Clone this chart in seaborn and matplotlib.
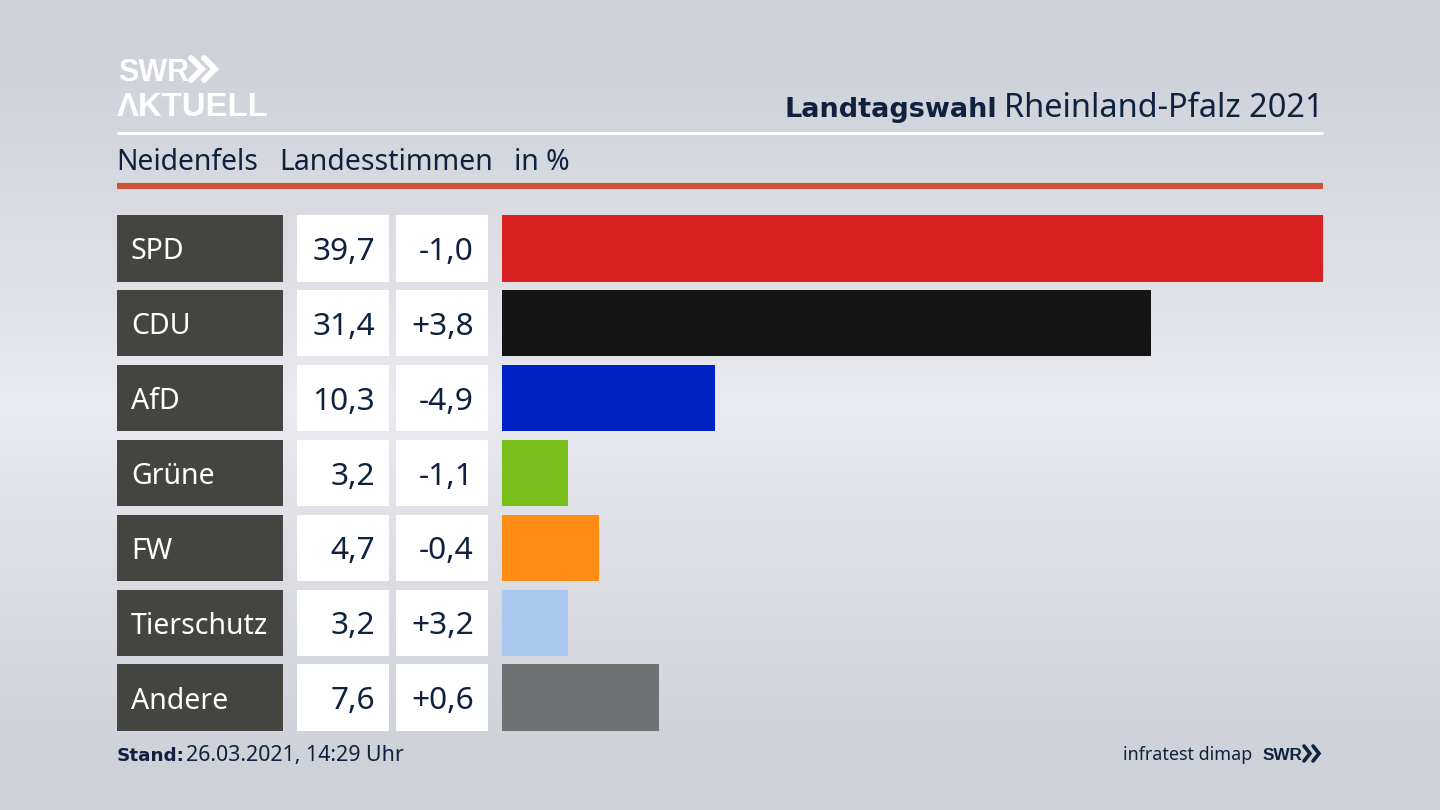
"""SWR election graphic: Landesstimmen Neidenfels, Rheinland-Pfalz 2021."""

import matplotlib
matplotlib.use("Agg")
import matplotlib.pyplot as plt
import numpy as np
import pandas as pd
import seaborn as sns

parties = ["SPD", "CDU", "AfD", "Grüne", "FW", "Tierschutz", "Andere"]
shares = [39.7, 31.4, 10.3, 3.2, 4.7, 3.2, 7.6]
changes = ["-1,0", "+3,8", "-4,9", "-1,1", "-0,4", "+3,2", "+0,6"]
bar_colors = ["#d7201f", "#141414", "#0021c4", "#79bd1a", "#ff8c14", "#abc8f0", "#707173"]

NAVY = "#0e2240"
BOLD_FONT = "DejaVu Sans"
LOGO_FONT = "Liberation Sans"
W, H = 1440, 810
BAR_H = 0.888

sns.set_theme(style="white")
plt.rcParams["font.family"] = ["Noto Sans", "DejaVu Sans"]


def px_axes(fig, left, top, right, bottom):
    """Axes placed by pixel edges, measured from the top left."""
    return fig.add_axes([left / W, 1 - bottom / H, (right - left) / W, (bottom - top) / H])


fig = plt.figure(figsize=(14.4, 8.1), dpi=100)

# Background gradient, light band through the middle
bg = px_axes(fig, 0, 0, W, H)
rows = np.linspace(0, 1, 256)
shade = 1 - np.abs(rows - 0.5) * 2
shade = shade ** 1.3
top_c = np.array([205, 208, 215]) / 255
mid_c = np.array([234, 235, 240]) / 255
grad = top_c + (mid_c - top_c) * shade[:, None]
bg.imshow(grad[:, None, :], aspect="auto", extent=[0, W, H, 0])
bg.set_xlim(0, W)
bg.set_ylim(H, 0)
bg.axis("off")

# Header
bg.plot([117, 1323], [133, 133], color="white", lw=2.2, solid_capstyle="butt")
bg.plot([117, 1323], [185.5, 185.5], color="#cc5238", lw=4.4, solid_capstyle="butt")
bg.text(118, 81, "SWR", color="white", fontsize=22, fontweight="bold", va="baseline", family=LOGO_FONT)
bg.text(117, 115.5, "ΛKTUELL", color="white", fontsize=23.7, fontweight="bold", va="baseline", family=LOGO_FONT)
for x0 in (191, 204):
    bg.plot([x0, x0 + 11, x0], [58, 69, 80], color="white", lw=4.2, solid_joinstyle="miter")

bg.text(997, 117, "Landtagswahl", color=NAVY, fontsize=19.5, fontweight="bold", ha="right", va="baseline",
        family=BOLD_FONT)
bg.text(1323, 117, "Rheinland-Pfalz 2021", color=NAVY, fontsize=23.4, ha="right", va="baseline")
bg.text(116, 170, "Neidenfels", color=NAVY, fontsize=20.4, va="baseline")
bg.text(279, 170, "Landesstimmen", color=NAVY, fontsize=20.5, va="baseline")
bg.text(514, 170, "in %", color=NAVY, fontsize=20.4, va="baseline")

# Footer
bg.text(117, 761, "Stand:", color=NAVY, fontsize=13.2, fontweight="bold", va="baseline", family=BOLD_FONT)
bg.text(186, 761, "26.03.2021, 14:29 Uhr", color=NAVY, fontsize=15.4, va="baseline")
bg.text(1252, 760, "infratest dimap", color=NAVY, fontsize=12.9, ha="right", va="baseline")
bg.text(1263, 760, "SWR", color=NAVY, fontsize=12.3, fontweight="bold", va="baseline", family=LOGO_FONT)
for x0 in (1304, 1313):
    bg.plot([x0, x0 + 6, x0], [746, 753.5, 761], color=NAVY, lw=2.6, solid_joinstyle="miter")

df = pd.DataFrame({"party": parties, "share": shares})
y_pos = np.arange(len(parties))

# Vote share bars
ax = px_axes(fig, 502, 210.8, 1323, 735.2)
sns.barplot(data=df, x="share", y="party", hue="party", palette=bar_colors, legend=False,
            width=BAR_H, saturation=1, linewidth=0, ax=ax)
ax.set_xlim(0, max(shares))
ax.set_ylim(len(parties) - 0.5, -0.5)
ax.axis("off")

# Table columns to the left of the bars
name_ax = px_axes(fig, 117, 210.8, 283, 735.2)
value_ax = px_axes(fig, 297, 210.8, 389, 735.2)
change_ax = px_axes(fig, 396, 210.8, 488, 735.2)
cols = [(name_ax, "#444441"), (value_ax, "white"), (change_ax, "white")]
for col, color in cols:
    col.barh(y_pos, 1, height=BAR_H, color=color, linewidth=0)
    col.set_xlim(0, 1)
    col.set_ylim(len(parties) - 0.5, -0.5)
    col.axis("off")

for i in y_pos:
    name_ax.text(14 / 166, i, parties[i], color="white", fontsize=20.5, va="center_baseline")
    value_ax.text(78 / 92, i, f"{shares[i]:.1f}".replace(".", ","), color=NAVY, fontsize=22.8,
                  ha="right", va="center_baseline")
    change_ax.text(78 / 92, i, changes[i], color=NAVY, fontsize=22.8, ha="right", va="center_baseline")

plt.savefig("out.png", dpi=100)
plt.close()
